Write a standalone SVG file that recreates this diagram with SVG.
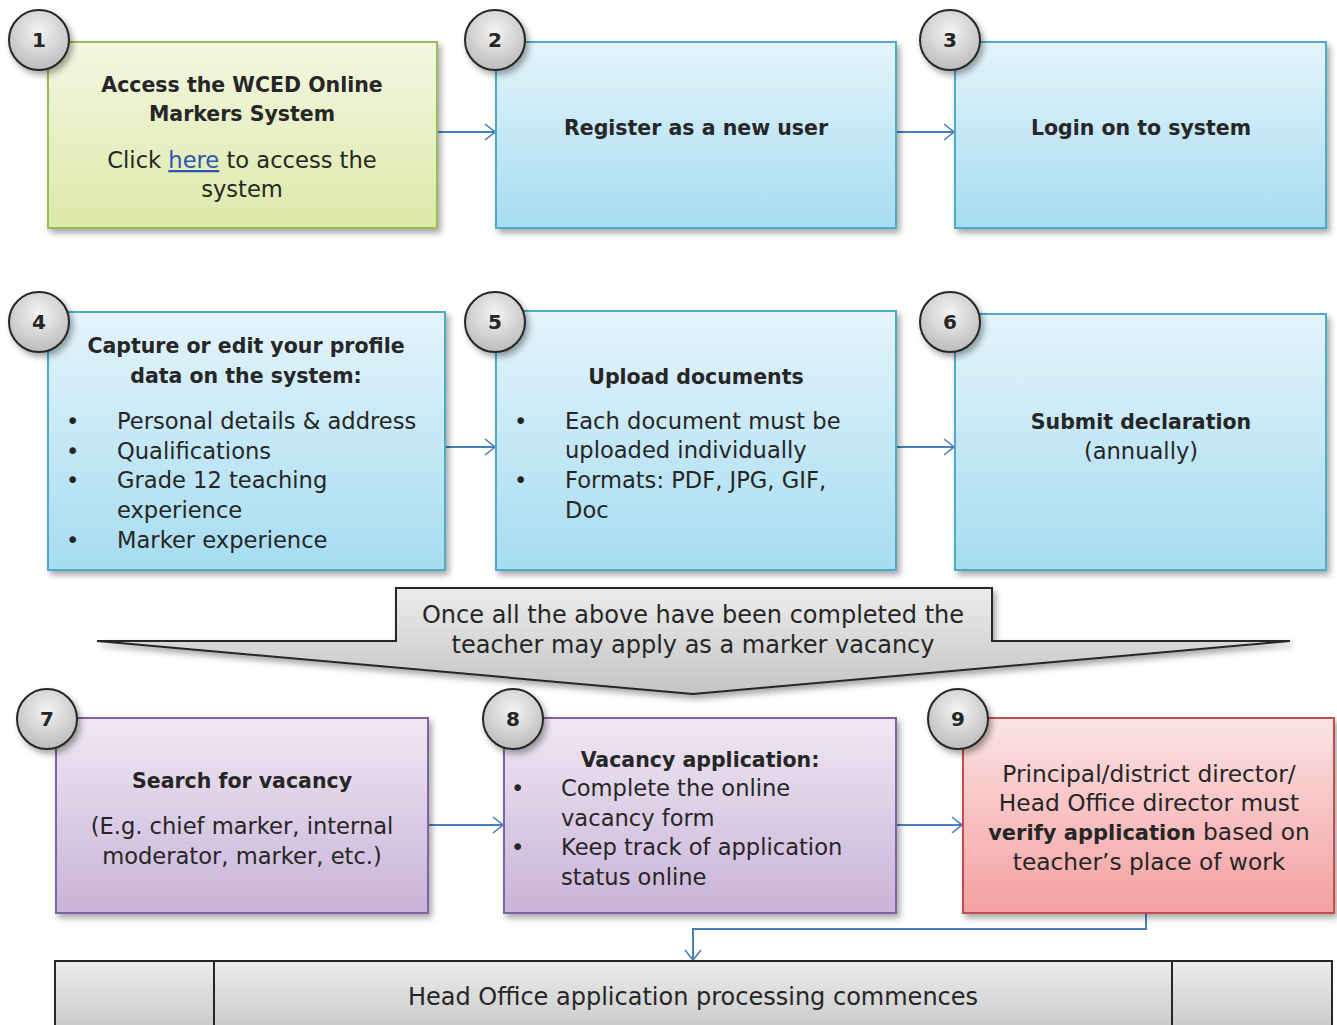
<svg xmlns="http://www.w3.org/2000/svg" width="1337" height="1025" viewBox="0 0 1337 1025">
<defs>
<linearGradient id="gGreen" x1="0" y1="0" x2="0" y2="1"><stop offset="0" stop-color="#f3f7e2"/><stop offset="1" stop-color="#dce9a8"/></linearGradient>
<linearGradient id="gBlue" x1="0" y1="0" x2="0" y2="1"><stop offset="0" stop-color="#e4f4fb"/><stop offset="1" stop-color="#a6dcf1"/></linearGradient>
<linearGradient id="gPurple" x1="0" y1="0" x2="0" y2="1"><stop offset="0" stop-color="#efe8f3"/><stop offset="1" stop-color="#c9b3d9"/></linearGradient>
<linearGradient id="gRed" x1="0" y1="0" x2="0" y2="1"><stop offset="0" stop-color="#fce3e4"/><stop offset="1" stop-color="#f4a0a1"/></linearGradient>
<linearGradient id="gGray" x1="0" y1="0" x2="0" y2="1"><stop offset="0" stop-color="#ececec"/><stop offset="1" stop-color="#c4c4c4"/></linearGradient>
<radialGradient id="gCirc" cx="0.5" cy="0.35" r="0.65"><stop offset="0" stop-color="#f4f4f4"/><stop offset="1" stop-color="#bcbcbc"/></radialGradient>
<filter id="sh" x="-10%" y="-10%" width="130%" height="130%"><feDropShadow dx="3" dy="4" stdDeviation="3" flood-color="#000" flood-opacity="0.35"/></filter>
<marker id="arr" viewBox="0 0 12 18" refX="11" refY="9" markerWidth="12" markerHeight="18" markerUnits="userSpaceOnUse" orient="auto"><path d="M1,1 L11,9 L1,17" fill="none" stroke="#4a7ebb" stroke-width="1.6"/></marker>
</defs>
<style>
text{font-family:"DejaVu Sans","Liberation Sans",sans-serif;fill:#262626}
.t{font-size:20.5px;font-weight:bold}
.b{font-size:22.6px}
.n{font-size:20px;font-weight:bold;text-anchor:middle}
.c{text-anchor:middle}
.box{stroke-width:2;filter:url(#sh)}
.circ{fill:url(#gCirc);stroke:#262626;stroke-width:2;filter:url(#sh)}
.con{fill:none;stroke:#4a7ebb;stroke-width:2;marker-end:url(#arr)}
</style>
<rect width="1337" height="1025" fill="#fff"/>
<g id="connectors">
<path class="con" d="M437,132 H495"/>
<path class="con" d="M896,132 H954"/>
<path class="con" d="M445,447 H495"/>
<path class="con" d="M896,447 H954"/>
<path class="con" d="M428,825 H503"/>
<path class="con" d="M896,825 H962"/>
<path class="con" d="M1146,913 V929 H693 V960"/>
</g>
<g id="node1">
<rect class="box" x="48" y="42" width="389" height="186" fill="url(#gGreen)" stroke="#9bbb59"/>
<text class="t c" x="242" y="92">Access the WCED Online</text>
<text class="t c" x="242" y="121">Markers System</text>
<text class="b c" x="242" y="168">Click <tspan fill="#2f54b0" text-decoration="underline">here</tspan> to access the</text>
<text class="b c" x="242" y="197">system</text>
<circle class="circ" cx="39" cy="40" r="30"/><text class="n" x="39" y="47">1</text>
</g>
<g id="node2">
<rect class="box" x="496" y="42" width="400" height="186" fill="url(#gBlue)" stroke="#4bacc6"/>
<text class="t c" x="696" y="135">Register as a new user</text>
<circle class="circ" cx="495" cy="40" r="30"/><text class="n" x="495" y="47">2</text>
</g>
<g id="node3">
<rect class="box" x="955" y="42" width="371" height="186" fill="url(#gBlue)" stroke="#4bacc6"/>
<text class="t c" x="1141" y="135">Login on to system</text>
<circle class="circ" cx="950" cy="40" r="30"/><text class="n" x="950" y="47">3</text>
</g>
<g id="node4">
<rect class="box" x="48" y="312" width="397" height="258" fill="url(#gBlue)" stroke="#4bacc6"/>
<text class="t c" x="246" y="353">Capture or edit your profile</text>
<text class="t c" x="246" y="383">data on the system:</text>
<text class="b" x="66" y="429">•</text><text class="b" x="117" y="429">Personal details &amp; address</text>
<text class="b" x="66" y="459">•</text><text class="b" x="117" y="459">Qualifications</text>
<text class="b" x="66" y="488">•</text><text class="b" x="117" y="488">Grade 12 teaching</text>
<text class="b" x="117" y="518">experience</text>
<text class="b" x="66" y="548">•</text><text class="b" x="117" y="548">Marker experience</text>
<circle class="circ" cx="39" cy="322" r="30"/><text class="n" x="39" y="329">4</text>
</g>
<g id="node5">
<rect class="box" x="496" y="311" width="400" height="259" fill="url(#gBlue)" stroke="#4bacc6"/>
<text class="t c" x="696" y="384" font-size="21.5px">Upload documents</text>
<text class="b" x="514" y="429">•</text><text class="b" x="565" y="429">Each document must be</text>
<text class="b" x="565" y="458">uploaded individually</text>
<text class="b" x="514" y="488">•</text><text class="b" x="565" y="488">Formats: PDF, JPG, GIF,</text>
<text class="b" x="565" y="518">Doc</text>
<circle class="circ" cx="495" cy="322" r="30"/><text class="n" x="495" y="329">5</text>
</g>
<g id="node6">
<rect class="box" x="955" y="314" width="371" height="256" fill="url(#gBlue)" stroke="#4bacc6"/>
<text class="t c" x="1141" y="429">Submit declaration</text>
<text class="b c" x="1141" y="459">(annually)</text>
<circle class="circ" cx="950" cy="322" r="30"/><text class="n" x="950" y="329">6</text>
</g>
<g id="callout">
<path class="box" d="M396,588 H992 V641 H1290 L693,694 L97,641 H396 Z" fill="url(#gGray)" stroke="#262626" stroke-width="2"/>
<text class="c" x="693" y="623" font-size="24px">Once all the above have been completed the</text>
<text class="c" x="693" y="653" font-size="24px">teacher may apply as a marker vacancy</text>
</g>
<g id="node7">
<rect class="box" x="56" y="718" width="372" height="195" fill="url(#gPurple)" stroke="#8064a2"/>
<text class="t c" x="242" y="788" font-size="21.8px">Search for vacancy</text>
<text class="b c" x="242" y="834">(E.g. chief marker, internal</text>
<text class="b c" x="242" y="864">moderator, marker, etc.)</text>
<circle class="circ" cx="47" cy="719" r="30"/><text class="n" x="47" y="726">7</text>
</g>
<g id="node8">
<rect class="box" x="504" y="718" width="392" height="195" fill="url(#gPurple)" stroke="#8064a2"/>
<text class="t c" x="700" y="767" font-size="22.2px">Vacancy application:</text>
<text class="b" x="511" y="796">•</text><text class="b" x="561" y="796">Complete the online</text>
<text class="b" x="561" y="826">vacancy form</text>
<text class="b" x="511" y="855">•</text><text class="b" x="561" y="855">Keep track of application</text>
<text class="b" x="561" y="885">status online</text>
<circle class="circ" cx="513" cy="719" r="30"/><text class="n" x="513" y="726">8</text>
</g>
<g id="node9">
<rect class="box" x="963" y="718" width="371" height="195" fill="url(#gRed)" stroke="#c0504d"/>
<text class="c" x="1149" y="782" font-size="23.3px">Principal/district director/</text>
<text class="c" x="1149" y="811" font-size="23.3px">Head Office director must</text>
<text class="c" x="1149" y="840" font-size="23.3px"><tspan font-weight="bold" font-size="21px">verify application</tspan> based on</text>
<text class="c" x="1149" y="870" font-size="23.3px">teacher’s place of work</text>
<circle class="circ" cx="958" cy="719" r="30"/><text class="n" x="958" y="726">9</text>
</g>
<g id="node10">
<rect x="55" y="961" width="1277" height="80" fill="url(#gGray)" stroke="#262626" stroke-width="2"/>
<line x1="214" y1="961" x2="214" y2="1025" stroke="#262626" stroke-width="2"/>
<line x1="1172" y1="961" x2="1172" y2="1025" stroke="#262626" stroke-width="2"/>
<text class="c" x="693" y="1005" font-size="24px">Head Office application processing commences</text>
</g>
</svg>
